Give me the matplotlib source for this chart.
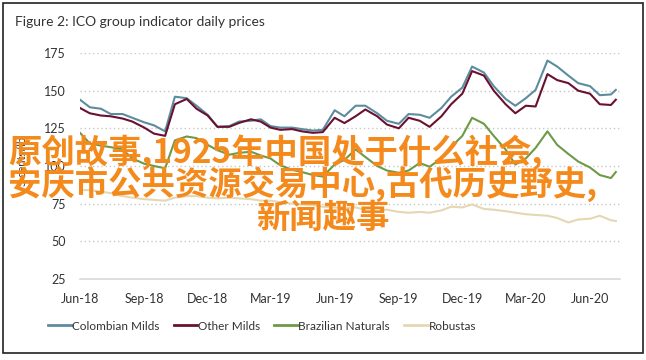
import matplotlib
matplotlib.use("Agg")
import matplotlib.pyplot as plt
import pandas as pd
from matplotlib.patches import Rectangle
from matplotlib.lines import Line2D

# ---- data ----
dates = list(pd.date_range("2018-06-01", "2020-07-01", freq="SMS")) + [pd.Timestamp("2020-07-08")]

colombian_milds = [144, 139, 138, 134.5, 134.5, 132, 129, 127, 123, 146, 145, 140, 134, 126,
                   126.5, 129.5, 130, 131, 126.5, 125.5, 125.5, 124.5, 123.5, 124, 137, 133,
                   140, 140, 135, 130, 128, 134.5, 134, 132, 138.5, 146, 152, 166, 162, 153,
                   144.5, 140, 145, 150.5, 170, 166, 160, 155, 153, 147, 147.5, 150.5]
other_milds = [138.5, 135, 133.5, 133, 131.5, 129.5, 125.5, 121.5, 120, 141, 144.5, 138, 133.5,
               126, 126, 128.6, 131, 129.5, 125.5, 124, 124.5, 123, 122, 122.5, 132, 128.5,
               133, 137.5, 133, 127.5, 125, 132, 130, 126, 133, 141, 148, 163, 160, 150, 141,
               135, 140, 139.5, 161, 157, 155, 150, 148, 141, 140.5, 144]
brazilian_naturals = [122, 115, 113.5, 112.5, 111, 105, 101.5, 100, 98.5, 117, 119.6, 118.5, 114,
                      110.5, 107.5, 108.7, 109.5, 107, 105, 100.5, 97.5, 96, 94, 93, 101, 104,
                      111, 106, 100, 97, 95.5, 97, 102, 99.5, 105, 112.7, 120, 132, 128, 120,
                      111, 101, 105, 112, 123, 114, 108, 103, 99, 94, 92, 96]
robustas = [84, 84, 83, 82, 80, 79, 78, 77.5, 77, 79, 80, 80, 79, 78.5, 79, 78.5, 78, 77, 77, 76,
            75, 74.5, 74, 73, 72.5, 72, 72.5, 71, 70.5, 71, 69.5, 69, 69.5, 69, 70.5, 73, 72.5,
            74.5, 71.5, 71, 70, 69, 68, 67.5, 67, 65.5, 62.5, 64.5, 65, 67, 64, 63.5]

series_names = ["Colombian Milds", "Other Milds", "Brazilian Naturals", "Robustas"]
series_colors = ["#5d8c9e", "#6a1030", "#6d9a46", "#e4d7b3"]
y_ticks = [25, 50, 75, 100, 125, 150, 175]
x_tick_dates = ["2018-06-01", "2018-09-01", "2018-12-01", "2019-03-01", "2019-06-01",
                "2019-09-01", "2019-12-01", "2020-03-01", "2020-06-01"]
x_tick_labels = ["Jun-18", "Sep-18", "Dec-18", "Mar-19", "Jun-19", "Sep-19", "Dec-19",
                 "Mar-20", "Jun-20"]
title = "Figure 2: ICO group indicator daily prices"
y_label = "US cents/lb"
overlay_lines = ["原创故事,1925年中国处于什么社会,", "安庆市公共资源交易中心,古代历史野史,", "新闻趣事"]

plt.rcParams['font.family'] = ['Lato', 'DejaVu Sans']
text_color = "#333333"

fig = plt.figure(figsize=(6.46, 3.60), dpi=100)
W, H = 646, 360
def fx(px):
    return px / W
def fy(py):
    return 1 - py / H

# frame
fig.patches.append(Rectangle((fx(3), fy(353)), fx(640), (350) / H, transform=fig.transFigure,
                             fill=False, edgecolor="#222222", linewidth=1.2))

ax = fig.add_axes([fx(80), fy(279), fx(540), (279 - 53) / H])
all_series = [colombian_milds, other_milds, brazilian_naturals, robustas]
order = [3, 2, 0, 1]
for k in order:
    ax.plot(dates, all_series[k], color=series_colors[k], linewidth=1.5, zorder=3 + k)

ax.set_ylim(25, 175)
ax.set_xlim(pd.Timestamp("2018-06-01"), pd.Timestamp("2020-07-14"))
ax.set_yticks(y_ticks)
ax.set_yticklabels([str(v) for v in y_ticks])
ax.set_xticks([pd.Timestamp(d) for d in x_tick_dates])
ax.set_xticklabels(x_tick_labels)
ax.tick_params(axis="both", length=0, labelsize=9, colors=text_color)
ax.tick_params(axis="y", pad=10)
ax.tick_params(axis="x", pad=10)
for v in y_ticks[1:]:
    ax.axhline(v, color="#c8c8c8", linewidth=1.0, linestyle=(0, (1, 2)), zorder=1)
for s in ["top", "right", "left"]:
    ax.spines[s].set_visible(False)
ax.spines["bottom"].set_color("#d9d9d9")
ax.spines["bottom"].set_linewidth(1.2)

fig.text(fx(15), fy(22), title, fontsize=10, color=text_color, va="center", ha="left")
fig.text(fx(22), fy(165), y_label, fontsize=8, color=text_color, rotation=90, va="center", ha="center")

handles = [Line2D([0], [0], color=c, linewidth=2) for c in series_colors]
fig.legend(handles, series_names, loc="center", bbox_to_anchor=(fx(262), fy(326)), ncol=4,
           frameon=False, fontsize=8.5, handlelength=2.0, handletextpad=0.05, columnspacing=1.2,
           labelcolor=text_color)

# overlay caption
ov = dict(fontsize=24, color="#f58a1c", fontweight="bold", family=["Noto Sans CJK SC", "DejaVu Sans"],
          va="center", zorder=20)
fig.text(fx(8), fy(152), overlay_lines[0], ha="left", **ov)
fig.text(fx(8), fy(185), overlay_lines[1], ha="left", **ov)
fig.text(fx(256), fy(218), overlay_lines[2], ha="left", **ov)

fig.savefig("out.png", dpi=100)
